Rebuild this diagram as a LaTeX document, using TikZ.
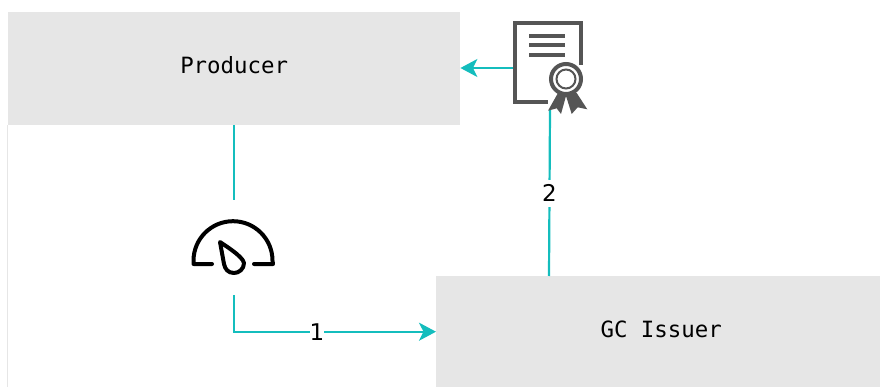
\documentclass[tikz,border=0pt]{standalone}
\usepackage{fontspec}
\setmainfont{DejaVu Sans}
\setmonofont{DejaVu Sans Mono}
\usetikzlibrary{arrows.meta}
\definecolor{boxgray}{HTML}{E6E6E6}
\definecolor{linkteal}{HTML}{14BDBD}
\definecolor{icongray}{HTML}{555555}
\tikzset{
	box/.style={fill=boxgray,anchor=north west,inner sep=0pt,font=\ttfamily\fontsize{22.4}{26}\selectfont},
	link/.style={color=linkteal,line width=2.2pt},
	tip/.style={-{Stealth[length=17pt,width=18pt,inset=4.5pt]}},
	steplabel/.style={fill=white,text=black,inner xsep=0pt,inner ysep=5pt,font=\fontsize{23}{27}\selectfont},
	iconslot/.style={inner sep=0pt}
}
\begin{document}
\begin{tikzpicture}[x=1pt,y=-1pt]
	\useasboundingbox (0,0) rectangle (880,387);
	\draw[color=boxgray,line width=1pt] (7.5,125)--(7.5,387); % bord gauche
	% les deux boites
	\node[box,minimum width=452pt,minimum height=113pt] (producer) at (8,12) {\raisebox{7pt}{Producer}};
	\node[box,minimum width=444pt,minimum height=111pt] (issuer) at (436,276) {\hspace*{6pt}\raisebox{5pt}{GC Issuer}};
	% emplacements des icones
	\node[iconslot,minimum width=80pt,minimum height=95pt] (gauge) at (234,247.5) {};
	\node[iconslot,minimum width=74pt,minimum height=84pt] (cert) at (550,68) {};
	% les liens
	\draw[link] (producer.south -| gauge) -- (gauge.north);
	\draw[link,tip] (gauge.south) |- node[steplabel,pos=0.705] (one) {1} (issuer.west);
	\draw[link] (issuer.north -| 549,0) -- node[steplabel,pos=0.5] (two) {2} (cert.south);
	\draw[link,tip] (cert.west) -- (producer.east |- cert.west);
	% le compteur
	\draw[line width=4pt,line cap=round,line join=round] (212,264) -- (193.5,264) -- (193.5,260.7) arc[start angle=180,end angle=0,radius=39.5pt] -- (273,264) -- (254,264);
	\draw[line width=4pt,line join=round] (220,242) .. controls (221,243) and (243,256) .. (244,263) .. controls (244,269) and (239,273) .. (234,273) .. controls (228,273) and (225,269) .. (224,264) -- cycle;
	% le certificat
	\draw[color=icongray,line width=4pt] (581,65) -- (581,23.5) -- (514.5,23.5) -- (514.5,102) -- (548,102);
	\foreach \y in {36,45.5,55}
		\draw[color=icongray,line width=4pt] (529,\y) -- (565,\y);
	\fill[color=white] (566,79) circle[radius=19pt];
	\fill[color=icongray] (558,93) -- (548,110.7) -- (556.7,108.3) -- (561,114) -- (566,96) -- (571.7,114) -- (577.7,107.3) -- (587.3,109.3) -- (576.7,93) -- cycle;
	\draw[color=icongray,fill=white,line width=4pt] (566,79) circle[radius=15pt];
	\draw[color=icongray,line width=2pt] (566,79) circle[radius=9.5pt];
\end{tikzpicture}
\end{document}
